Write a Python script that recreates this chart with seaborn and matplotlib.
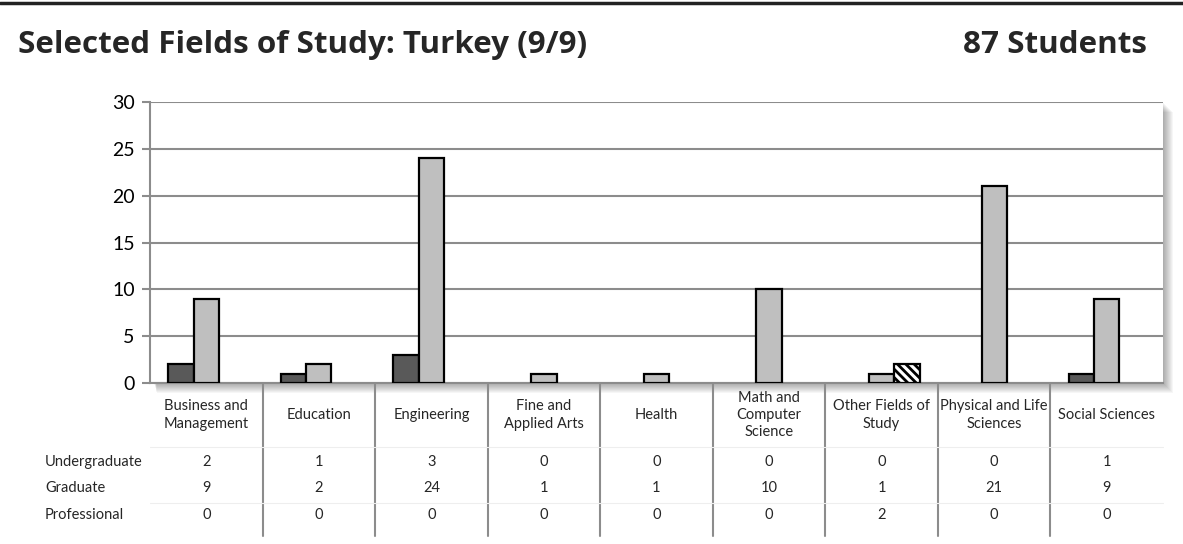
import matplotlib
matplotlib.use("Agg")
import matplotlib.pyplot as plt
from matplotlib.patches import Rectangle
from matplotlib.lines import Line2D
import seaborn as sns
import pandas as pd

categories = [
    "Business and\nManagement", "Education", "Engineering",
    "Fine and\nApplied Arts", "Health", "Math and\nComputer\nScience",
    "Other Fields of\nStudy", "Physical and Life\nSciences", "Social Sciences",
]
levels = ["Undergraduate", "Graduate", "Professional"]
undergraduate = [2, 1, 3, 0, 0, 0, 0, 0, 1]
graduate = [9, 2, 24, 1, 1, 10, 1, 21, 9]
professional = [0, 0, 0, 0, 0, 0, 2, 0, 0]
title = "Selected Fields of Study: Turkey (9/9)"
total_label = "87 Students"
y_ticks = [0, 5, 10, 15, 20, 25, 30]

series = {"Undergraduate": undergraduate, "Graduate": graduate, "Professional": professional}
rows = []
for lvl in levels:
    for cat, v in zip(categories, series[lvl]):
        rows.append({"Field": cat, "Level": lvl, "Students": v})
df = pd.DataFrame(rows)

sns.set_theme(style="white")
plt.rcParams["font.family"] = ["Lato", "DejaVu Sans"]
plt.rcParams["hatch.linewidth"] = 2.0
plt.rcParams["hatch.color"] = "black"

W, H = 1183, 544
fig = plt.figure(figsize=(W / 100, H / 100), dpi=100)

# plot area in pixel coordinates
L, R, T, B = 150, 1163, 102, 383
ax = fig.add_axes([L / W, 1 - B / H, (R - L) / W, (B - T) / H])
ax.set_zorder(2)

# soft drop shadow behind the plot area
for i in range(10):
    off = 1 + i
    fig.patches.append(Rectangle(((L + 4 + i * 0.3) / W, (H - B - off) / H),
                                 (R - L - 4 + off - i * 0.3) / W, (B - T) / H,
                                 transform=fig.transFigure, facecolor="black",
                                 edgecolor="none", alpha=0.035, zorder=0))

palette = {"Undergraduate": "#595959", "Graduate": "#BFBFBF", "Professional": "#FFFFFF"}
sns.barplot(data=df, x="Field", y="Students", hue="Level", order=categories,
            hue_order=levels, palette=palette, width=0.675, gap=0,
            edgecolor="black", linewidth=1.6, saturation=1, ax=ax, legend=False)

for lvl, cont in zip(levels, ax.containers):
    for p in cont.patches:
        if p.get_height() == 0:
            p.set_visible(False)
        if lvl == "Professional":
            p.set_hatch("\\\\\\\\")
        p.set_zorder(3)

ax.set_xlim(-0.5, len(categories) - 0.5)
ax.set_ylim(0, 30)
ax.set_yticks(y_ticks)
ax.set_yticklabels([str(t) for t in y_ticks], fontsize=14, color="black")
ax.yaxis.grid(True, color="#8C8C8C", linewidth=1.5)
ax.set_axisbelow(True)
ax.tick_params(axis="y", which="major", left=True, length=6, width=1.5,
               color="#8C8C8C", pad=5)
ax.set_xticks([])
ax.set_xlabel("")
ax.set_ylabel("")
for s in ["top", "right"]:
    ax.spines[s].set_visible(False)
ax.spines["left"].set_color("#8C8C8C")
ax.spines["left"].set_linewidth(1.5)
ax.spines["bottom"].set_color("#8C8C8C")
ax.spines["bottom"].set_linewidth(1.5)

# data table below the plot
def fy(px):
    return 1 - px / H

to_fig = fig.transFigure.inverted()
for i in range(len(categories) - 1):
    x_fig = to_fig.transform(ax.transData.transform((i + 0.5, 0)))[0]
    fig.add_artist(Line2D([x_fig, x_fig], [fy(384), fy(536)], color="#8C8C8C",
                          linewidth=1.5))
for ypx in [447, 503]:
    fig.add_artist(Line2D([L / W, R / W], [fy(ypx), fy(ypx)], color="#EEEEEE",
                          linewidth=0.8))

tfs = 10.5
for i, cat in enumerate(categories):
    x_fig = to_fig.transform(ax.transData.transform((i, 0)))[0]
    fig.text(x_fig, fy(415), cat, ha="center", va="center", fontsize=tfs,
             linespacing=1.3)
    for r, lvl in enumerate(levels):
        fig.text(x_fig, fy(462 + r * 26.5), str(series[lvl][i]), ha="center",
                 va="center", fontsize=tfs)

for r, lvl in enumerate(levels):
    fig.text(45 / W, fy(462 + r * 26.5), lvl, ha="left", va="center", fontsize=tfs)

# header
fig.add_artist(Line2D([0, 1], [fy(3), fy(3)], color="#222222", linewidth=2.5))
fig.text(18 / W, fy(45), title, ha="left", va="center", fontsize=22.6,
         fontweight="bold", family=["Open Sans", "DejaVu Sans"])
fig.text(1147 / W, fy(45), total_label, ha="right", va="center", fontsize=22.6,
         fontweight="bold", family=["Open Sans", "DejaVu Sans"])

fig.savefig("out.png", dpi=100)
